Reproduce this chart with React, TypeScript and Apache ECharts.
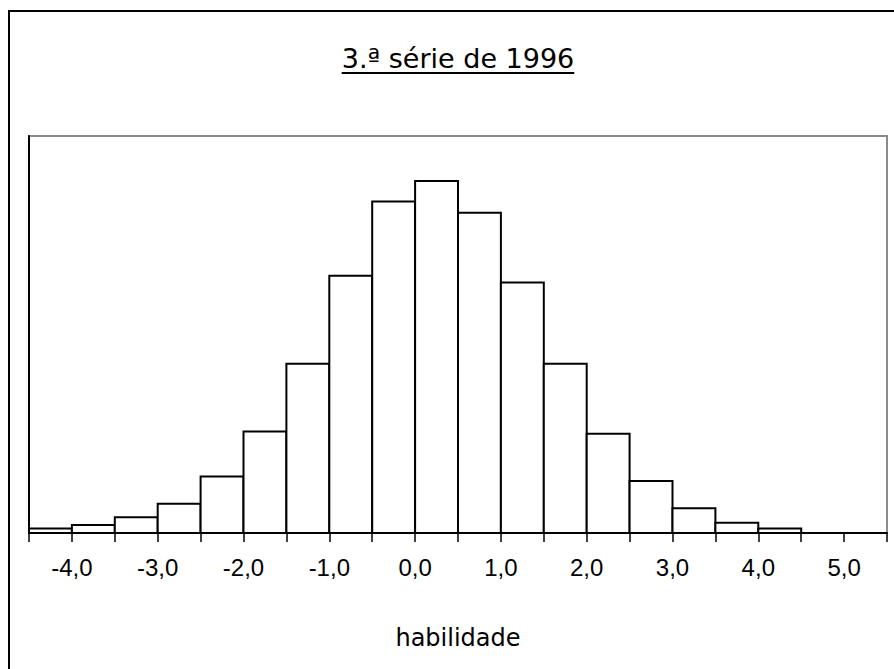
import React, { useEffect, useRef } from "react";
import * as echarts from "echarts";

// Histogram bin edges (habilidade), 0.5 wide
const binEdges = [-4.5, -4.0, -3.5, -3.0, -2.5, -2.0, -1.5, -1.0, -0.5, 0.0, 0.5, 1.0, 1.5, 2.0, 2.5, 3.0, 3.5, 4.0, 4.5, 5.0, 5.5];
// Relative frequency (%) per bin
const frequency = [0.2, 0.35, 0.7, 1.3, 2.5, 4.5, 7.5, 11.4, 14.7, 15.6, 14.2, 11.1, 7.5, 4.4, 2.3, 1.1, 0.45, 0.2, 0, 0];
// Tick labels on the x axis
const tickValues = [-4, -3, -2, -1, 0, 1, 2, 3, 4, 5];
const tickLabels = ["-4,0", "-3,0", "-2,0", "-1,0", "0,0", "1,0", "2,0", "3,0", "4,0", "5,0"];

const titleText = "3.ª série de 1996";
const xAxisTitle = "habilidade";

const TITLE_FONT = '"Comic Sans MS", "DejaVu Sans", sans-serif';

export default function App() {
  const ref = useRef<HTMLDivElement>(null);

  useEffect(() => {
    if (!ref.current) return;
    const chart = echarts.init(ref.current, undefined, { renderer: "svg" });

    const ctx = document.createElement("canvas").getContext("2d")!;
    ctx.font = `27px ${TITLE_FONT}`;
    const titleW = ctx.measureText(titleText).width;
    const titleCx = 458;

    const data = frequency.map((f, i) => [binEdges[i], binEdges[i + 1], f]);

    chart.setOption({
      animation: false,
      backgroundColor: "#ffffff",
      grid: {
        left: 29,
        right: 7,
        top: 136,
        bottom: 136,
        show: true,
        borderColor: "#8a8a8a",
        borderWidth: 2,
        backgroundColor: "transparent",
      },
      xAxis: {
        type: "value",
        min: binEdges[0],
        max: binEdges[binEdges.length - 1],
        interval: 0.5,
        splitLine: { show: false },
        axisLine: { show: true, onZero: false, lineStyle: { color: "#000", width: 2 } },
        axisTick: { show: true, length: 9, lineStyle: { color: "#000", width: 1.5 } },
        axisLabel: {
          show: true,
          margin: 22,
          fontFamily: '"Liberation Sans", Arial, sans-serif',
          fontSize: 24,
          color: "#000",
          formatter: (v: number) => {
            const idx = tickValues.findIndex((t) => Math.abs(t - v) < 1e-9);
            return idx >= 0 ? tickLabels[idx] : "";
          },
        },
        name: xAxisTitle,
        nameLocation: "middle",
        nameGap: 93,
        nameTextStyle: { fontFamily: TITLE_FONT, fontSize: 24, color: "#000" },
      },
      yAxis: {
        type: "value",
        min: 0,
        max: 17.6,
        splitLine: { show: false },
        axisLine: { show: true, onZero: false, lineStyle: { color: "#000", width: 2 } },
        axisTick: { show: false },
        axisLabel: { show: false },
      },
      series: [
        {
          type: "custom",
          encode: { x: [0, 1], y: 2 },
          data,
          renderItem: (params: any, api: any) => {
            const x0 = api.value(0);
            const x1 = api.value(1);
            const v = api.value(2);
            if (!v) return null;
            const p0 = api.coord([x0, v]);
            const p1 = api.coord([x1, 0]);
            return {
              type: "rect",
              shape: { x: p0[0], y: p0[1], width: p1[0] - p0[0], height: p1[1] - p0[1] },
              style: { fill: "#ffffff", stroke: "#000000", lineWidth: 2 },
            };
          },
        },
      ],
      graphic: [
        {
          type: "rect",
          shape: { x: 9, y: 11, width: 1000, height: 1000 },
          style: { fill: "none", stroke: "#000", lineWidth: 2 },
          silent: true,
        },
        {
          type: "text",
          x: titleCx,
          y: 58,
          style: {
            text: titleText,
            font: `27px ${TITLE_FONT}`,
            fill: "#000",
            textAlign: "center",
            textVerticalAlign: "middle",
          },
        },
        {
          type: "line",
          shape: { x1: titleCx - titleW / 2, y1: 73, x2: titleCx + titleW / 2, y2: 73 },
          style: { stroke: "#000", lineWidth: 2 },
        },
      ],
    });

    return () => chart.dispose();
  }, []);

  return (
    <div
      ref={ref}
      style={{ position: "absolute", left: 0, top: 0, width: 894, height: 669, overflow: "hidden", background: "#fff" }}
    />
  );
}
